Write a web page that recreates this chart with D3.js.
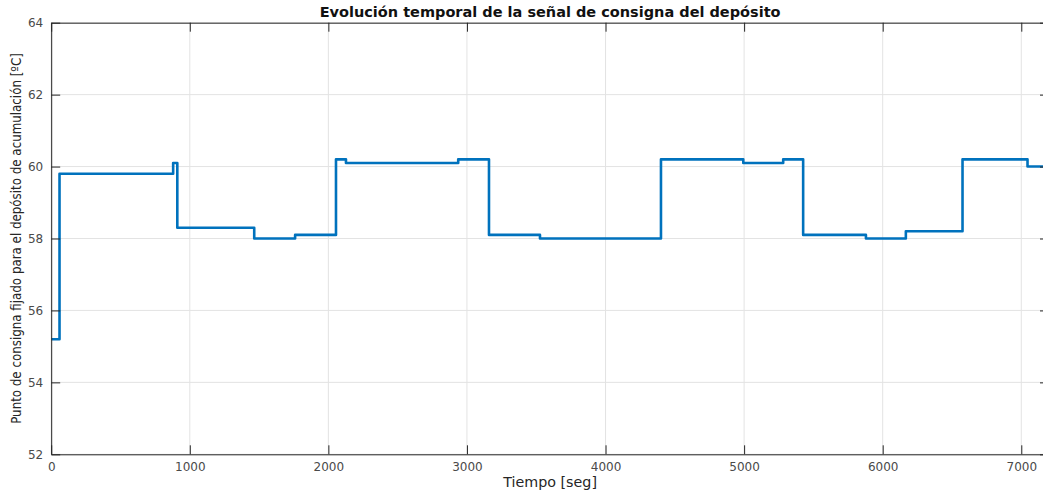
<!DOCTYPE html>
<html>
<head>
<meta charset="utf-8">
<script src="https://cdn.jsdelivr.net/npm/d3@7"></script>
<style>
  html, body { margin: 0; padding: 0; background: #fff; }
  svg { display: block; }
</style>
</head>
<body>
<svg id="chart" width="1043" height="494"></svg>
<script>
// Step change times (s) and setpoint values (ºC)
const stepTimes  = [0, 60, 880, 910, 1465, 1760, 2055, 2127, 2937, 3159, 3527, 4400, 4994, 5282, 5426, 5879, 6167, 6576, 7045, 7200];
const stepValues = [55.2, 59.8, 60.1, 58.3, 58.0, 58.1, 60.2, 60.1, 60.2, 58.1, 58.0, 60.2, 60.1, 60.2, 58.1, 58.0, 58.2, 60.2, 60.0, 60.0];
const xTicks = [0, 1000, 2000, 3000, 4000, 5000, 6000, 7000];
const yTicks = [52, 54, 56, 58, 60, 62, 64];
const titleText = "Evolución temporal de la señal de consigna del depósito";
const xLabelText = "Tiempo [seg]";
const yLabelText = "Punto de consigna fijado para el depósito de acumulación [ºC]";

const svg = d3.select("#chart");
const mLeft = 51.2, mRight = 1049, mTop = 22.7, mBottom = 454.3;

const x = d3.scaleLinear().domain([0, 7200]).range([mLeft, mRight]);
const y = d3.scaleLinear().domain([52, 64]).range([mBottom, mTop]);

const axisColor = "#262626";
const gridColor = "#e3e3e3";
const font = "DejaVu Sans, sans-serif";

// grid
const g = svg.append("g");
g.selectAll(".vg").data(xTicks).join("line")
  .attr("x1", d => x(d)).attr("x2", d => x(d))
  .attr("y1", mTop).attr("y2", mBottom)
  .attr("stroke", gridColor).attr("stroke-width", 1);
g.selectAll(".hg").data(yTicks).join("line")
  .attr("x1", mLeft).attr("x2", mRight)
  .attr("y1", d => y(d)).attr("y2", d => y(d))
  .attr("stroke", gridColor).attr("stroke-width", 1);

// clip
svg.append("clipPath").attr("id", "clip").append("rect")
  .attr("x", mLeft).attr("y", mTop).attr("width", mRight - mLeft).attr("height", mBottom - mTop);

// data line
const data = stepTimes.map((t, i) => [t, stepValues[i]]);
const line = d3.line().x(d => x(d[0])).y(d => y(d[1])).curve(d3.curveStepAfter);
svg.append("path")
  .attr("clip-path", "url(#clip)")
  .attr("d", line(data))
  .attr("fill", "none")
  .attr("stroke", "#0072BD")
  .attr("stroke-width", 2.6)
  .attr("stroke-linejoin", "round");

// axes (MATLAB style, ticks inward, box)
const tickLen = 9;
const fmt = d3.format("d");
const xAxisB = d3.axisBottom(x).tickValues(xTicks).tickFormat(fmt).tickSizeInner(-tickLen).tickSizeOuter(0).tickPadding(8);
const xAxisT = d3.axisTop(x).tickValues(xTicks).tickSizeInner(-tickLen).tickSizeOuter(0).tickFormat("");
const yAxisL = d3.axisLeft(y).tickValues(yTicks).tickFormat(fmt).tickSizeInner(-tickLen).tickSizeOuter(0).tickPadding(8);
const yAxisR = d3.axisRight(y).tickValues(yTicks).tickSizeInner(-tickLen).tickSizeOuter(0).tickFormat("");

function style(sel) {
  sel.selectAll("path").attr("stroke", axisColor).attr("stroke-width", 1);
  sel.selectAll("line").attr("stroke", axisColor).attr("stroke-width", 1);
  sel.selectAll("text").attr("fill", "#4a4a4a").style("font-family", font).style("font-size", "12px");
}
svg.append("g").attr("transform", `translate(0,${mBottom})`).call(xAxisB).call(style);
svg.append("g").attr("transform", `translate(0,${mTop})`).call(xAxisT).call(style);
svg.append("g").attr("transform", `translate(${mLeft},0)`).call(yAxisL).call(style);
svg.append("g").attr("transform", `translate(${mRight},0)`).call(yAxisR).call(style);

// labels
svg.append("text").attr("x", (mLeft + mRight) / 2).attr("y", 16.5)
  .attr("text-anchor", "middle").style("font-family", font).style("font-weight", "bold")
  .style("font-size", "14.5px").attr("fill", "#111").text(titleText);
svg.append("text").attr("x", (mLeft + mRight) / 2).attr("y", 487)
  .attr("text-anchor", "middle").style("font-family", font)
  .style("font-size", "14.3px").attr("fill", "#262626").text(xLabelText);
svg.append("text").attr("transform", `translate(20.5,${(mTop + mBottom) / 2}) rotate(-90)`)
  .attr("text-anchor", "middle").style("font-family", "DejaVu Sans Condensed, DejaVu Sans, sans-serif")
  .style("font-size", "13.2px").attr("fill", "#262626").text(yLabelText);
</script>
</body>
</html>
